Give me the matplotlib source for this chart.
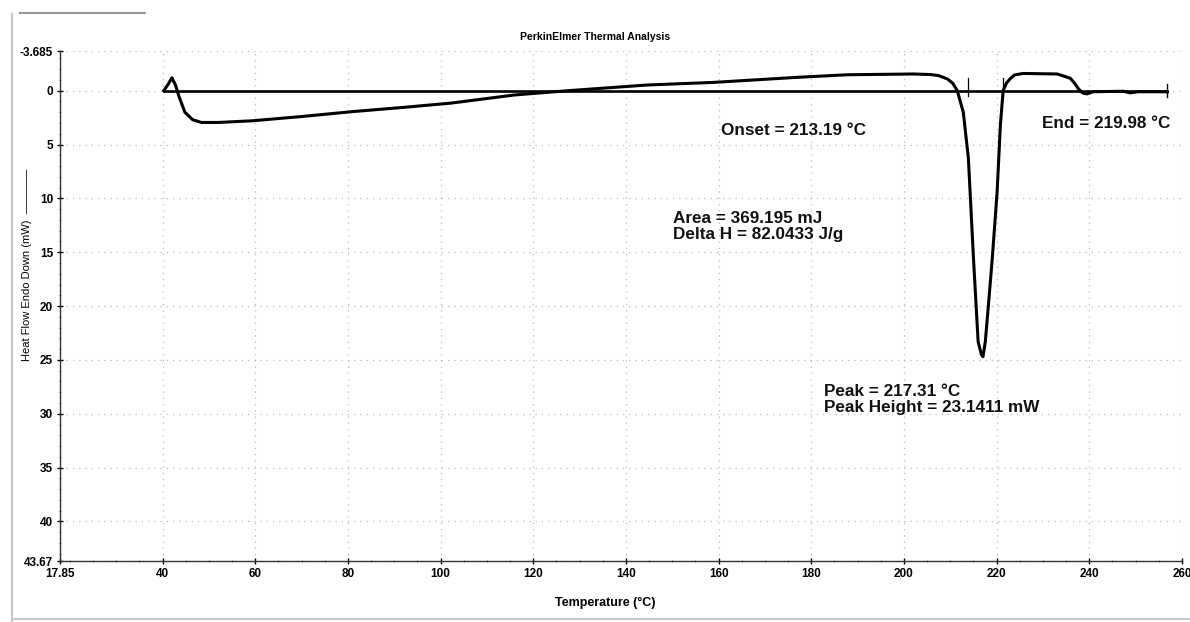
import matplotlib
matplotlib.use("Agg")
import matplotlib.pyplot as plt
from matplotlib.lines import Line2D
from matplotlib.ticker import MultipleLocator

plt.rcParams['font.family'] = ['Liberation Sans', 'DejaVu Sans']

# ---- data ----
temperature = [40.25, 41.2, 42.0, 42.8, 43.5, 44.8, 46.5, 48.4, 52.0, 59.2, 70.0,
               80.8, 92.0, 102.3, 115.9, 127.5, 144.7, 158.9, 177.0, 187.8, 202.0,
               205.7, 207.5, 209.4, 210.5, 211.5, 212.8, 213.9, 215.0, 216.0, 216.7,
               217.05, 217.55, 218.3, 219.05, 220.1, 220.8, 221.4, 222.1, 222.9,
               223.8, 225.7, 233.1, 235.9, 236.8, 237.6, 238.5, 239.5, 240.8,
               247.3, 248.8, 250.5, 252.5, 256.8]
heat_flow = [0.0, -0.6, -1.2, -0.5, 0.5, 2.0, 2.7, 2.95, 2.95, 2.8, 2.4,
             1.95, 1.55, 1.15, 0.4, 0.0, -0.53, -0.77, -1.24, -1.48, -1.55,
             -1.5, -1.4, -1.08, -0.7, 0.0, 2.0, 6.3, 15.6, 23.3, 24.5,
             24.7, 23.3, 19.5, 15.6, 9.4, 3.2, 0.0, -0.7, -1.1,
             -1.45, -1.6, -1.55, -1.15, -0.7, -0.2, 0.2, 0.3, 0.1,
             0.05, 0.2, 0.1, 0.1, 0.1]

baseline_range = [40.25, 256.8]
baseline_value = 0.0
integration_limits = [213.9, 221.4]

x_ticks = [17.85, 40, 60, 80, 100, 120, 140, 160, 180, 200, 220, 240, 260]
x_ticklabels = ["17.85", "40", "60", "80", "100", "120", "140", "160", "180",
                "200", "220", "240", "260"]
y_ticks = [-3.685, 0, 5, 10, 15, 20, 25, 30, 35, 40, 43.67]
y_ticklabels = ["-3.685", "0", "5", "10", "15", "20", "25", "30", "35", "40", "43.67"]

annotations = [
    ("Onset = 213.19 °C", 160.5, 3.74),
    ("End = 219.98 °C", 229.8, 3.09),
    ("Area = 369.195 mJ", 150.1, 11.87),
    ("Delta H = 82.0433 J/g", 150.1, 13.35),
    ("Peak = 217.31 °C", 182.65, 27.9),
    ("Peak Height = 23.1411 mW", 182.65, 29.42),
]

# ---- figure ----
W, H = 1190, 622
fig = plt.figure(figsize=(W / 100, H / 100), dpi=100)
ax = fig.add_axes([60 / W, 1 - 561 / H, 1122 / W, 510 / H])

ax.set_xlim(x_ticks[0], x_ticks[-1])
ax.set_ylim(y_ticks[-1], y_ticks[0])  # inverted: values increase downward

# grid
ax.grid(True, which='major', color='#b8b8b8', linestyle=(0, (1, 4)), linewidth=0.9)
ax.set_axisbelow(True)

# curve and baseline
ax.plot(temperature, heat_flow, color='black', linewidth=2.2, solid_joinstyle='round')
ax.plot(baseline_range, [baseline_value, baseline_value], color='black', linewidth=1.9)
ax.plot([baseline_range[1], baseline_range[1]], [baseline_value - 0.6, baseline_value + 0.6],
        color='black', linewidth=1.0)
for t in integration_limits:
    ax.plot([t, t], [-1.2, 0.5], color='black', linewidth=0.9)

# annotations
for txt, tx, ty in annotations:
    ax.text(tx, ty, txt, fontsize=12.3, fontweight='bold', ha='left', va='center',
            color='#111111')

# axes styling
for s in ['top', 'right']:
    ax.spines[s].set_visible(False)
for s in ['left', 'bottom']:
    ax.spines[s].set_color('#333333')
    ax.spines[s].set_linewidth(1.0)

ax.set_xticks(x_ticks)
ax.set_xticklabels(x_ticklabels, fontsize=8.5, fontweight='bold')
ax.set_yticks(y_ticks)
ax.set_yticklabels(y_ticklabels, fontsize=8.5, fontweight='bold')
ax.yaxis.set_minor_locator(MultipleLocator(1))
ax.xaxis.set_minor_locator(MultipleLocator(5))
ax.tick_params(which='major', direction='inout', length=4, width=1, pad=3, colors='black')
ax.tick_params(which='minor', direction='inout', length=2, width=0.6, color='#555555')

# titles
fig.text(595 / W, 1 - 37 / H, "PerkinElmer Thermal Analysis", fontsize=7.5,
         fontweight='bold', ha='center', va='center')
fig.text(605 / W, 1 - 603 / H, "Temperature (°C)", fontsize=9, fontweight='bold',
         ha='center', va='center')
fig.text(27 / W, 1 - 265 / H, "Heat Flow Endo Down (mW)  ————", fontsize=8,
         rotation=90, ha='center', va='center')

# scan page edges
fig.add_artist(Line2D([12 / W, 12 / W], [0.0, 1 - 14 / H], transform=fig.transFigure,
                      color='#c8c8c8', linewidth=1.5))
fig.add_artist(Line2D([12 / W, 1.0], [1 - 619 / H, 1 - 619 / H], transform=fig.transFigure,
                      color='#c8c8c8', linewidth=1.5))
fig.add_artist(Line2D([20 / W, 145 / W], [1 - 13 / H, 1 - 13 / H], transform=fig.transFigure,
                      color='#9a9a9a', linewidth=1.5))

fig.savefig("out.png", dpi=100)
